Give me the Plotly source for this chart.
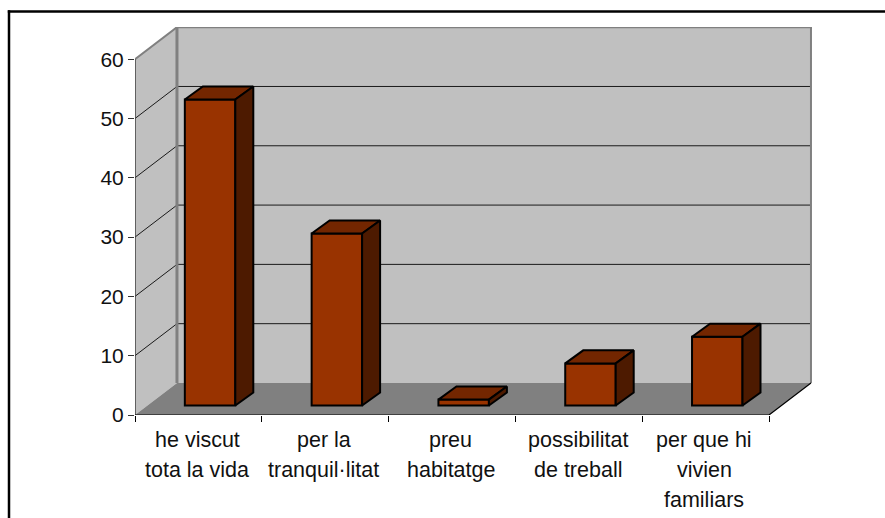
import plotly.graph_objects as go

# --- data ---
category_lines = [
    ["he viscut", "tota la vida"],
    ["per la", "tranquil·litat"],
    ["preu", "habitatge"],
    ["possibilitat", "de treball"],
    ["per que hi", "vivien", "familiars"],
]
values = [51.6, 29.0, 1.0, 7.1, 11.6]
y_ticks = [0, 10, 20, 30, 40, 50, 60]

# --- oblique projection settings (data units) ---
WALL_DX, WALL_DY = 0.331, 5.4      # back wall offset
BAR_SHIFT_X, BAR_BASE = 0.092, 1.6  # bar front plane offset from axis plane
BAR_WIDTH = 0.398
BAR_DX, BAR_DY = 0.142, 2.2        # bar depth offset
X0, X1 = -0.5, 4.5
Y_MAX = 60

FONT = "Liberation Sans, Arial, sans-serif"
BAR, TOP, SIDE = "#993300", "#732600", "#4D1A00"
WALL, FLOOR, EDGE = "#C0C0C0", "#808080", "#808080"

W, H = 885, 518
L, R, T, B = 135, 73, 27, 103
x_range = [X0, X0 + (W - L - R) / 126.8]
y_range = [0, (H - T - B) / 5.93]


def path(pts):
    return "M " + " L ".join(f"{x},{y}" for x, y in pts) + " Z"


shapes = [
    dict(type="path", xref="x", yref="y", layer="below", line_width=0, fillcolor=WALL,
         path=path([(X0 + WALL_DX, WALL_DY), (X1 + WALL_DX, WALL_DY),
                    (X1 + WALL_DX, Y_MAX + WALL_DY), (X0 + WALL_DX, Y_MAX + WALL_DY)])),
    dict(type="path", xref="x", yref="y", layer="below", line_width=0, fillcolor=WALL,
         path=path([(X0, 0), (X0 + WALL_DX, WALL_DY),
                    (X0 + WALL_DX, Y_MAX + WALL_DY), (X0, Y_MAX)])),
    dict(type="path", xref="x", yref="y", layer="below", line_width=0, fillcolor=FLOOR,
         path=path([(X0, 0), (X1, 0), (X1 + WALL_DX, WALL_DY), (X0 + WALL_DX, WALL_DY)])),
]
for v in y_ticks[1:-1]:
    shapes.append(dict(type="path", xref="x", yref="y", layer="below",
                       line=dict(color="#1a1a1a", width=1),
                       path=f"M {X0},{v} L {X0 + WALL_DX},{v + WALL_DY} L {X1 + WALL_DX},{v + WALL_DY}"))

# outer frame of the chart area
px = lambda p: (p - L) / (W - L - R)
py = lambda p: 1 - (p - T) / (H - T - B)
for x0, y0, x1, y1 in [(7.8, 11.5, 890, 11.5), (9, 10.3, 9, 530)]:
    shapes.append(dict(type="line", xref="paper", yref="paper", layer="above",
                       x0=px(x0), x1=px(x1), y0=py(y0), y1=py(y1),
                       line=dict(color="black", width=2.5)))

fig = go.Figure()

xs = [i + BAR_SHIFT_X for i in range(len(values))]
fig.add_trace(go.Bar(x=xs, y=values, base=[BAR_BASE] * len(values), width=BAR_WIDTH,
                     marker=dict(color=BAR, line=dict(color="black", width=2)),
                     hoverinfo="skip"))


def line(xv, yv, color, width):
    fig.add_trace(go.Scatter(x=xv, y=yv, mode="lines", cliponaxis=False, hoverinfo="skip",
                             line=dict(color=color, width=width)))


# wall edges and axis lines
line([X0 + WALL_DX, X0 + WALL_DX], [WALL_DY, Y_MAX + WALL_DY], EDGE, 3)
line([X0, X0 + WALL_DX, X1 + WALL_DX, X1 + WALL_DX],
     [Y_MAX, Y_MAX + WALL_DY, Y_MAX + WALL_DY, WALL_DY], EDGE, 2)
line([X0, X0], [0, Y_MAX], "#404040", 1.5)
line([X0, X1, X1 + WALL_DX], [0, 0, WALL_DY], "black", 1.2)

# bar top and side faces
for xc, v in zip(xs, values):
    xl, xr = xc - BAR_WIDTH / 2, xc + BAR_WIDTH / 2
    yb, yt = BAR_BASE, BAR_BASE + v
    for pts, color in [
        ([(xl, yt), (xr, yt), (xr + BAR_DX, yt + BAR_DY), (xl + BAR_DX, yt + BAR_DY)], TOP),
        ([(xr, yb), (xr + BAR_DX, yb + BAR_DY), (xr + BAR_DX, yt + BAR_DY), (xr, yt)], SIDE),
    ]:
        fig.add_trace(go.Scatter(
            x=[p[0] for p in pts] + [pts[0][0]], y=[p[1] for p in pts] + [pts[0][1]],
            mode="lines", fill="toself", fillcolor=color, hoverinfo="skip",
            line=dict(color="black", width=2)))

# category labels, one real text per line (the wide line pitch needs this)
annotations = []
for i, lines in enumerate(category_lines):
    for j, text in enumerate(lines):
        annotations.append(dict(x=i - 0.01, y=0, xref="x", yref="y", text=text, showarrow=False,
                                xanchor="center", yanchor="middle", yshift=-(25 + 30 * j),
                                font=dict(family=FONT, size=21.5, color="#111111")))

fig.update_layout(
    width=W, height=H, margin=dict(l=L, r=R, t=T, b=B, pad=0),
    paper_bgcolor="white", plot_bgcolor="white", showlegend=False,
    shapes=shapes, annotations=annotations, barmode="overlay",
    xaxis=dict(range=x_range, tickmode="array", tickvals=[X0 + i for i in range(6)],
               showticklabels=False, ticks="outside", ticklen=6, tickwidth=1, tickcolor="black",
               showgrid=False, zeroline=False, showline=False),
    yaxis=dict(range=y_range, tickmode="array", tickvals=y_ticks,
               ticks="outside", ticklen=6, tickwidth=1, tickcolor="#333333",
               tickfont=dict(family=FONT, size=21, color="#111111"),
               showgrid=False, zeroline=False, showline=False),
)

fig.write_html("out.html", config={"displayModeBar": False},
               post_script="document.body.style.margin='0';document.body.style.overflow='hidden';")
